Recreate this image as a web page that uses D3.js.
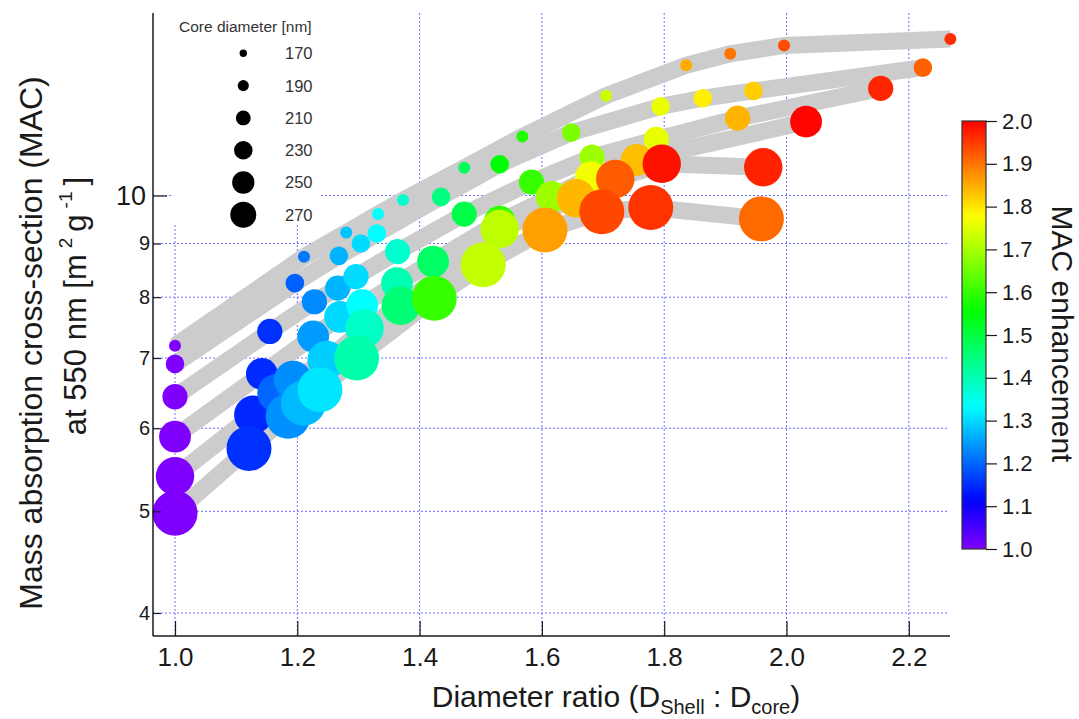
<!DOCTYPE html>
<html><head><meta charset="utf-8">
<script src="https://cdn.jsdelivr.net/npm/d3@7"></script>
<style>
html,body{margin:0;padding:0;background:#fff;}
svg{display:block;font-family:"Liberation Sans",Arial,Helvetica,sans-serif;}
</style></head><body>
<svg id="chart" width="1079" height="719"></svg>
<script>
// ---------------- data ----------------
const coreDiameters = [170, 190, 210, 230, 250, 270];

const ratio170 = [1.000, 1.211, 1.280, 1.332, 1.373, 1.473, 1.568, 1.705, 1.836, 1.908, 1.996, 2.268];
const mac170   = [7.19, 8.74, 9.22, 9.60, 9.90, 10.63, 11.38, 12.45, 13.31, 13.65, 13.90, 14.10];

const ratio190 = [1.000, 1.196, 1.268, 1.304, 1.330, 1.435, 1.531, 1.648, 1.794, 1.863, 1.946, 2.223];
const mac190   = [6.91, 8.25, 8.76, 9.00, 9.20, 9.97, 10.71, 11.48, 12.16, 12.38, 12.58, 13.24];

const ratio210 = [1.000, 1.155, 1.228, 1.266, 1.296, 1.364, 1.473, 1.583, 1.682, 1.787, 1.920, 2.154];
const mac210   = [6.43, 7.42, 7.92, 8.16, 8.37, 8.84, 9.60, 10.30, 10.88, 11.31, 11.85, 12.65];

const ratio230 = [1.000, 1.142, 1.226, 1.270, 1.306, 1.363, 1.422, 1.531, 1.616, 1.680, 1.755, 2.032];
const mac230   = [5.89, 6.76, 7.34, 7.66, 7.86, 8.25, 8.65, 9.44, 9.97, 10.41, 10.81, 11.76];

const ratio250 = [1.000, 1.128, 1.166, 1.193, 1.248, 1.310, 1.369, 1.531, 1.656, 1.720, 1.796, 1.962];
const mac250   = [5.40, 6.18, 6.48, 6.67, 6.97, 7.47, 7.85, 9.29, 9.94, 10.37, 10.72, 10.64];

const ratio270 = [1.000, 1.121, 1.185, 1.210, 1.237, 1.297, 1.424, 1.504, 1.605, 1.698, 1.778, 1.959];
const mac270   = [4.98, 5.74, 6.16, 6.34, 6.53, 7.00, 7.98, 8.59, 9.27, 9.65, 9.74, 9.50];

const xTickValues = [1.0, 1.2, 1.4, 1.6, 1.8, 2.0, 2.2];
const yTickValues = [4, 5, 6, 7, 8, 9, 10];
const colorTickValues = [1.0, 1.1, 1.2, 1.3, 1.4, 1.5, 1.6, 1.7, 1.8, 1.9, 2.0];

const xTitle = ["Diameter ratio (D", "Shell", " : D", "core", ")"];
const yTitle1 = "Mass absorption cross-section (MAC)";
const colorTitle = "MAC enhancement";
const legendTitle = "Core diameter [nm]";

const ratios = [ratio170, ratio190, ratio210, ratio230, ratio250, ratio270];
const macs = [mac170, mac190, mac210, mac230, mac250, mac270];
const series = coreDiameters.map((d, i) => ({
  core: d,
  points: ratios[i].map((r, j) => ({ r: r, m: macs[i][j], e: macs[i][j] / macs[i][0] }))
}));

// ---------------- layout ----------------
const svg = d3.select("#chart");
const plot = { left: 153, right: 950, top: 13, bottom: 636 };
const x = d3.scaleLinear().domain([1.0, 2.2]).range([175, 908.8]);
const y = d3.scaleLog().domain([4, 10]).range([613, 195.5]);
const hue = d3.scaleLinear().domain([1, 2]).range([270, 0]).clamp(true);
const colorOf = e => d3.hsl(hue(e), 1, 0.5).formatHex();
const rScale = d3.scaleLinear().domain([170, 270]).range([6, 22.5]);
const rLegend = d3.scaleLinear().domain([170, 270]).range([3.7, 13]);
const textCol = "#1a1a1a";
const gridCol = "#6e6eff";

// gridlines
const grid = svg.append("g");
grid.selectAll("line.h").data(yTickValues).join("line")
  .attr("x1", plot.left).attr("x2", plot.right - 2)
  .attr("y1", d => y(d)).attr("y2", d => y(d))
  .attr("stroke", gridCol).attr("stroke-width", 1).attr("stroke-dasharray", "2,2");
grid.selectAll("line.v").data(xTickValues).join("line")
  .attr("x1", d => x(d)).attr("x2", d => x(d))
  .attr("y1", plot.top).attr("y2", plot.bottom)
  .attr("stroke", gridCol).attr("stroke-width", 1).attr("stroke-dasharray", "2,2");

// legend (white box covers grid)
const lg = svg.append("g");
lg.append("rect").attr("x", 172).attr("y", 10).attr("width", 149).attr("height", 214).attr("fill", "#fff");
lg.append("text").attr("x", 179).attr("y", 32).attr("font-size", 15.5).attr("fill", "#333").text(legendTitle);
const rowY = d3.scaleLinear().domain([170, 270]).range([53.3, 214.8]);
lg.selectAll("circle").data(coreDiameters).join("circle")
  .attr("cx", 243.3).attr("cy", d => rowY(d)).attr("r", d => rLegend(d)).attr("fill", "#000");
lg.selectAll("text.lab").data(coreDiameters).join("text").attr("class", "lab")
  .attr("x", 285).attr("y", d => rowY(d)).attr("dy", "0.36em")
  .attr("font-size", 16.5).attr("fill", "#333").text(d => d);

// bands
const line = d3.line().x(d => x(d.r)).y(d => y(d.m));
svg.append("g").selectAll("path").data(series).join("path")
  .attr("d", d => line(d.points)).attr("fill", "none")
  .attr("stroke", "#cccccc").attr("stroke-width", 17)
  .attr("stroke-linejoin", "round").attr("stroke-linecap", "butt");

// markers
const mg = svg.append("g");
series.forEach(s => {
  mg.append("g").selectAll("circle").data(s.points).join("circle")
    .attr("cx", d => x(d.r)).attr("cy", d => y(d.m)).attr("r", rScale(s.core))
    .attr("fill", d => colorOf(d.e));
});

// axes
const ax = svg.append("g").attr("stroke", textCol);
ax.append("line").attr("x1", plot.left).attr("x2", plot.left).attr("y1", plot.top).attr("y2", plot.bottom).attr("stroke-width", 1.5);
ax.append("line").attr("x1", plot.left).attr("x2", plot.right).attr("y1", plot.bottom).attr("y2", plot.bottom).attr("stroke-width", 1.5);

const xAxis = d3.axisBottom(x).tickValues(xTickValues).tickSize(-15).tickPadding(12).tickFormat(d3.format(".1f"));
const gx = svg.append("g").attr("transform", `translate(0,${plot.bottom})`).call(xAxis);
gx.select(".domain").remove();
gx.selectAll(".tick line").attr("stroke", textCol).attr("stroke-width", 1.2);
gx.selectAll(".tick text").attr("font-size", 26).attr("fill", textCol).attr("font-family", "Liberation Sans, Arial, sans-serif");

const yAxis = d3.axisLeft(y).tickValues(yTickValues).tickFormat(d3.format("d")).tickSize(-8).tickPadding(3);
const gy = svg.append("g").attr("transform", `translate(${plot.left},0)`).call(yAxis);
gy.select(".domain").remove();
gy.selectAll(".tick line").attr("stroke", textCol).attr("stroke-width", 1.2)
  .attr("x2", d => d === 10 ? 14 : 8);
gy.selectAll(".tick text").attr("fill", textCol).attr("font-family", "Liberation Sans, Arial, sans-serif")
  .attr("font-size", d => d === 10 ? 27 : 20)
  .attr("x", d => d === 10 ? -7 : -3);

// axis titles
const xt = svg.append("text").attr("x", 616).attr("y", 707).attr("text-anchor", "middle")
  .attr("font-size", 30).attr("fill", textCol);
xTitle.forEach((t, i) => {
  const sp = xt.append("tspan").text(t);
  if (i === 1 || i === 3) sp.attr("font-size", 20).attr("dy", 7);
  else if (i === 2 || i === 4) sp.attr("dy", -7);
});

svg.append("text").attr("transform", "translate(42,343) rotate(-90)").attr("text-anchor", "middle")
  .attr("font-size", 32).attr("fill", textCol).text(yTitle1);
const y2 = svg.append("text").attr("transform", "translate(86,306) rotate(-90)").attr("text-anchor", "middle")
  .attr("font-size", 31).attr("fill", textCol);
y2.append("tspan").text("at 550 nm  [m");
y2.append("tspan").attr("font-size", 19).attr("dy", -14).attr("dx", 6).text("2");
y2.append("tspan").attr("dy", 14).attr("dx", 6).text("g");
y2.append("tspan").attr("font-size", 19).attr("dy", -14).attr("dx", 6).text("-1");
y2.append("tspan").attr("dy", 14).attr("dx", 6).text("]");

// colour bar
const cb = { x: 962, w: 24 };
const cy = d3.scaleLinear().domain([1, 2]).range([549, 121]);
const defs = svg.append("defs");
const grad = defs.append("linearGradient").attr("id", "cbar").attr("x1", 0).attr("y1", 1).attr("x2", 0).attr("y2", 0);
d3.range(0, 1.0001, 0.02).forEach(t => {
  grad.append("stop").attr("offset", t).attr("stop-color", colorOf(1 + t));
});
svg.append("rect").attr("x", cb.x).attr("y", cy(2)).attr("width", cb.w).attr("height", cy(1) - cy(2))
  .attr("fill", "url(#cbar)").attr("stroke", "#333").attr("stroke-width", 1.2);
const cAxis = d3.axisRight(cy).tickValues(colorTickValues).tickSize(11).tickPadding(5).tickFormat(d3.format(".1f"));
const gc = svg.append("g").attr("transform", `translate(${cb.x + cb.w},0)`).call(cAxis);
gc.select(".domain").remove();
gc.selectAll(".tick line").attr("stroke", textCol).attr("stroke-width", 1.2);
gc.selectAll(".tick text").attr("font-size", 22).attr("fill", textCol).attr("font-family", "Liberation Sans, Arial, sans-serif");
svg.append("text").attr("transform", "translate(1052,334) rotate(90)").attr("text-anchor", "middle")
  .attr("font-size", 30).attr("fill", textCol).text(colorTitle);
</script>
</body></html>
